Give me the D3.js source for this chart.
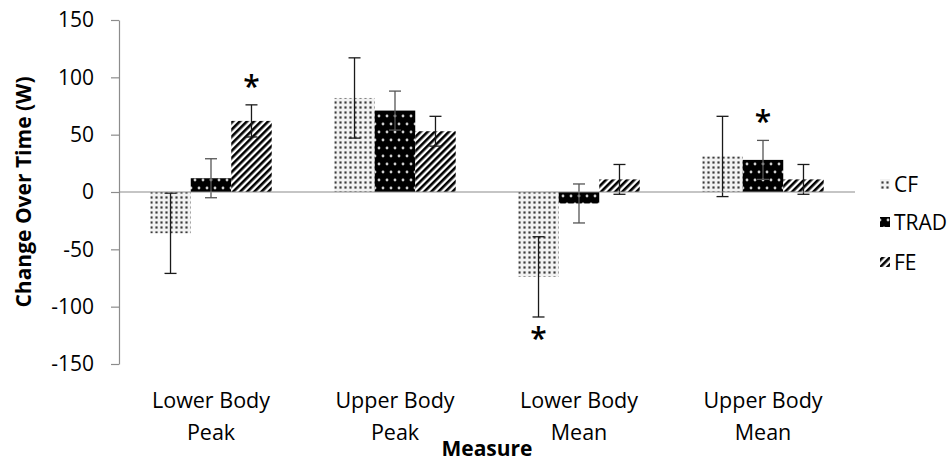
<!DOCTYPE html>
<html lang="en">
<head>
<meta charset="UTF-8">
<title>Change Over Time</title>
<script src="https://d3js.org/d3.v7.min.js"></script>
<style>
    body { margin: 0; background: #fff; }
    text { font-family: 'Open Sans', sans-serif; fill: #000; }
</style>
</head>
<body>
<script>
    const width = 952;
    const height = 465;

    const categories = ["Lower Body Peak", "Upper Body Peak", "Lower Body Mean", "Upper Body Mean"];
    const categoryLines = [["Lower Body", "Peak"], ["Upper Body", "Peak"], ["Lower Body", "Mean"], ["Upper Body", "Mean"]];
    const seriesNames = ["CF", "TRAD", "FE"];

    const cfMean = [-36, 82, -74, 31];
    const cfErr = [35, 35, 35, 35];
    const tradMean = [12, 71, -10, 28];
    const tradErr = [17, 17, 17, 17];
    const feMean = [62, 53, 11, 11];
    const feErr = [14, 13, 13, 13];

    const yTicks = [-150, -100, -50, 0, 50, 100, 150];

    // significance markers: category index + series
    const sigCategory = [0, 2, 3];
    const sigSeries = ["FE", "CF", "TRAD"];

    const means = {CF: cfMean, TRAD: tradMean, FE: feMean};
    const errs = {CF: cfErr, TRAD: tradErr, FE: feErr};

    const svg = d3.select("body").append("svg")
        .attr("width", width)
        .attr("height", height);

    // patterns
    const defs = svg.append("defs");

    const pCF = defs.append("pattern").attr("id", "pat-CF")
        .attr("patternUnits", "userSpaceOnUse")
        .attr("width", 5).attr("height", 5);
    pCF.append("rect").attr("width", 5).attr("height", 5).attr("fill", "#f2f2f2");
    pCF.append("rect").attr("x", 1).attr("y", 1).attr("width", 3).attr("height", 3).attr("fill", "#bdbdbd");
    pCF.append("circle").attr("cx", 2.5).attr("cy", 2.5).attr("r", 1).attr("fill", "#3a3a3a");

    const pTR = defs.append("pattern").attr("id", "pat-TRAD")
        .attr("patternUnits", "userSpaceOnUse")
        .attr("width", 8).attr("height", 16);
    pTR.append("rect").attr("width", 8).attr("height", 16).attr("fill", "#000");
    pTR.append("circle").attr("cx", 4).attr("cy", 4).attr("r", 1.4).attr("fill", "#d0d0d0");
    pTR.append("circle").attr("cx", 0).attr("cy", 12).attr("r", 1.4).attr("fill", "#d0d0d0");
    pTR.append("circle").attr("cx", 8).attr("cy", 12).attr("r", 1.4).attr("fill", "#d0d0d0");

    const pFE = defs.append("pattern").attr("id", "pat-FE")
        .attr("patternUnits", "userSpaceOnUse")
        .attr("width", 5).attr("height", 5)
        .attr("patternTransform", "rotate(45)");
    pFE.append("rect").attr("width", 5).attr("height", 5).attr("fill", "#fff");
    pFE.append("rect").attr("width", 2.6).attr("height", 5).attr("fill", "#000");

    // scales
    const x = d3.scaleBand()
        .domain(categories)
        .range([119, 855]);

    const xInner = d3.scaleBand()
        .domain(seriesNames)
        .range([x.bandwidth() * 0.17, x.bandwidth() * 0.83]);

    const y = d3.scaleLinear()
        .domain([-150, 150])
        .range([364, 20]);

    // y axis (plain hyphen for negatives, like the original)
    const yAxis = svg.append("g")
        .attr("transform", "translate(119,0)")
        .call(d3.axisLeft(y).tickValues(yTicks).tickFormat(d => String(d))
            .tickSize(8).tickPadding(17).tickSizeOuter(0));
    yAxis.selectAll("path, line").attr("stroke", "#8c8c8c").attr("stroke-width", 1.2);
    yAxis.selectAll("text")
        .style("font-family", "'Open Sans', sans-serif")
        .style("font-size", "21px")
        .attr("fill", "#000");

    // bars
    const groups = svg.selectAll(".cat")
        .data(categories)
        .enter().append("g").attr("class", "cat")
        .attr("transform", d => "translate(" + x(d) + ",0)");

    groups.each(function(cat, ci) {
        const g = d3.select(this);
        seriesNames.forEach(s => {
            const v = means[s][ci];
            g.append("rect")
                .attr("x", xInner(s))
                .attr("width", xInner.bandwidth())
                .attr("y", y(Math.max(0, v)))
                .attr("height", Math.abs(y(v) - y(0)))
                .attr("fill", "url(#pat-" + s + ")");
        });
    });

    // zero line
    svg.append("line")
        .attr("x1", 119).attr("x2", 855)
        .attr("y1", y(0)).attr("y2", y(0))
        .attr("stroke", "#8c8c8c").attr("stroke-width", 1.2);

    // error bars
    groups.each(function(cat, ci) {
        const g = d3.select(this);
        seriesNames.forEach(s => {
            const v = means[s][ci], e = errs[s][ci];
            const cx = xInner(s) + xInner.bandwidth() / 2;
            const col = s === "TRAD" ? "#555" : "#1a1a1a";
            g.append("line")
                .attr("x1", cx).attr("x2", cx)
                .attr("y1", y(v - e)).attr("y2", y(v + e))
                .attr("stroke", col).attr("stroke-width", 1.3);
            [v - e, v + e].forEach(t => {
                g.append("line")
                    .attr("x1", cx - 6).attr("x2", cx + 6)
                    .attr("y1", y(t)).attr("y2", y(t))
                    .attr("stroke", col).attr("stroke-width", 1.3);
            });
        });
    });

    // significance asterisks
    sigCategory.forEach((ci, i) => {
        const s = sigSeries[i];
        const v = means[s][ci], e = errs[s][ci];
        const cx = x(categories[ci]) + xInner(s) + xInner.bandwidth() / 2;
        const cy = v >= 0 ? y(v + e) - 21 : y(v - e) + 19;
        svg.append("text")
            .attr("x", cx)
            .attr("y", cy + 13)
            .attr("text-anchor", "middle")
            .style("font-size", "30px")
            .style("font-weight", "600")
            .text("*");
    });

    // category labels
    groups.each(function(cat, ci) {
        const t = d3.select(this).append("text")
            .attr("text-anchor", "middle")
            .style("font-size", "21.5px");
        categoryLines[ci].forEach((ln, li) => {
            t.append("tspan")
                .attr("x", x.bandwidth() / 2)
                .attr("y", 408 + li * 32)
                .text(ln);
        });
    });

    // axis titles
    svg.append("text")
        .attr("x", 487).attr("y", 456)
        .attr("text-anchor", "middle")
        .style("font-size", "21px")
        .style("font-weight", "bold")
        .text("Measure");

    svg.append("text")
        .attr("transform", "translate(31," + y(0) + ") rotate(-90)")
        .attr("text-anchor", "middle")
        .style("font-size", "21px")
        .style("font-weight", "bold")
        .text("Change Over Time (W)");

    // legend
    const legendY = [184, 222, 262];
    const legend = svg.append("g").attr("class", "legend");
    legend.selectAll("rect")
        .data(seriesNames)
        .enter().append("rect")
        .attr("x", 880)
        .attr("y", (d, i) => legendY[i] - 5)
        .attr("width", 10).attr("height", 10)
        .attr("fill", d => "url(#pat-" + d + ")");
    legend.selectAll("text")
        .data(seriesNames)
        .enter().append("text")
        .attr("x", 894)
        .attr("y", (d, i) => legendY[i])
        .attr("dy", "0.36em")
        .style("font-size", "21px")
        .text(d => d);
</script>
</body>
</html>
